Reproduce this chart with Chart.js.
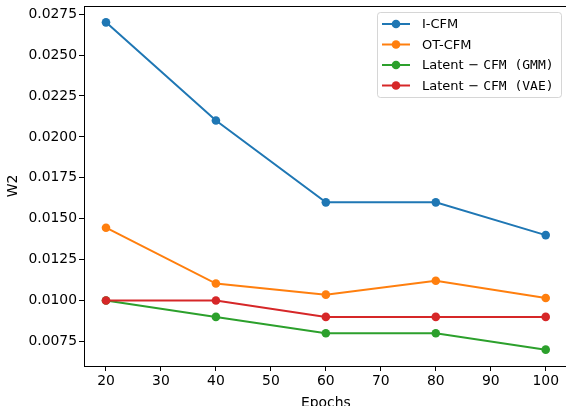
<!DOCTYPE html>
<html lang="en">
<head>
  <meta charset="UTF-8" />
  <title>W2 vs Epochs</title>
  <script src="https://cdn.jsdelivr.net/npm/chart.js"></script>
  <style>
    html, body { margin: 0; padding: 0; background: #fff; overflow: hidden; }
    #wrap { width: 566px; height: 406px; overflow: hidden; }
    canvas { display: block; }
  </style>
</head>
<body>
  <div id="wrap">
    <canvas id="w2Chart" width="572" height="412"></canvas>
  </div>

  <script>
    // données
    const epochs = [20, 40, 60, 80, 100];
    const iCfm = [0.0270, 0.0210, 0.0160, 0.0160, 0.0140];
    const otCfm = [0.01445, 0.01104, 0.01036, 0.01121, 0.01016];
    const latentGmm = [0.0100, 0.0090, 0.0080, 0.0080, 0.0070];
    const latentVae = [0.0100, 0.0100, 0.0090, 0.0090, 0.0090];

    const xTicks = [20, 30, 40, 50, 60, 70, 80, 90, 100];
    const yTicks = [0.0075, 0.0100, 0.0125, 0.0150, 0.0175, 0.0200, 0.0225, 0.0250, 0.0275];

    const SANS = "'DejaVu Sans', sans-serif";
    const MONO = "'DejaVu Sans Mono', monospace";

    function serie(label, values, color, order, mono) {
      return {
        label,
        data: epochs.map((e, i) => ({ x: e, y: values[i] })),
        borderColor: color,
        backgroundColor: color,
        pointBackgroundColor: color,
        pointBorderColor: color,
        borderWidth: 2,
        pointRadius: 4.3,
        pointBorderWidth: 0,
        tension: 0,
        order,
        monoLabel: mono
      };
    }

    // cadre haut + légende dessinée à la matplotlib
    const framePlugin = {
      id: 'frame',
      afterDraw(chart) {
        const { ctx, chartArea: a } = chart;
        ctx.save();
        ctx.strokeStyle = '#000';
        ctx.lineWidth = 1;
        ctx.beginPath();
        ctx.moveTo(a.left, a.top + 0.5);
        ctx.lineTo(a.right, a.top + 0.5);
        ctx.stroke();

        // boîte de légende
        const bx = 377.5, by = 12.5, bw = 184, bh = 85;
        ctx.fillStyle = 'rgba(255,255,255,0.8)';
        ctx.strokeStyle = 'rgba(204,204,204,0.8)';
        ctx.beginPath();
        ctx.roundRect(bx, by, bw, bh, 3);
        ctx.fill();
        ctx.stroke();

        chart.data.datasets.forEach((ds, i) => {
          const cy = 24 + i * 20.5;
          ctx.strokeStyle = ds.borderColor;
          ctx.lineWidth = 2;
          ctx.beginPath();
          ctx.moveTo(382, cy);
          ctx.lineTo(410, cy);
          ctx.stroke();
          ctx.fillStyle = ds.borderColor;
          ctx.beginPath();
          ctx.arc(396, cy, 4.3, 0, Math.PI * 2);
          ctx.fill();
          ctx.fillStyle = '#000';
          ctx.textBaseline = 'middle';
          ctx.textAlign = 'left';
          ctx.font = '13px ' + SANS;
          if (!ds.monoLabel) {
            ctx.fillText(ds.label, 422, cy + 1);
          } else {
            // "Latent − CFM (xxx)" : partie gauche en sans, le reste en mono
            const [left, right] = ds.label.split(' \u2212 ');
            ctx.fillText(left, 422, cy + 1);
            const lw = ctx.measureText(left).width;
            ctx.textAlign = 'center';
            ctx.fillText('\u2212', 422 + lw + 10, cy + 1);
            ctx.textAlign = 'left';
            ctx.font = '13px ' + MONO;
            ctx.fillText(right, 422 + lw + 19.5, cy + 1);
          }
        });
        ctx.restore();
      }
    };

    new Chart(document.getElementById('w2Chart'), {
      type: 'line',
      data: {
        datasets: [
          serie('I-CFM', iCfm, '#1f77b4', 3, false),
          serie('OT-CFM', otCfm, '#ff7f0e', 2, false),
          serie('Latent \u2212 CFM (GMM)', latentGmm, '#2ca02c', 1, true),
          serie('Latent \u2212 CFM (VAE)', latentVae, '#d62728', 0, true)
        ]
      },
      options: {
        responsive: false,
        animation: false,
        layout: { padding: { top: 6, right: 1, left: 0, bottom: 0 } },
        plugins: { legend: { display: false }, tooltip: { enabled: false } },
        scales: {
          x: {
            type: 'linear',
            min: 16,
            max: 104,
            afterBuildTicks: s => { s.ticks = xTicks.map(v => ({ value: v })); },
            afterFit: s => { s.height = 46; s.paddingLeft = 0; s.paddingRight = 0; },
            grid: { drawOnChartArea: false, drawTicks: true, tickLength: 5, tickColor: '#000' },
            border: { color: '#000', width: 1 },
            ticks: { color: '#000', font: { family: SANS, size: 13.9 }, padding: 2, maxRotation: 0 },
            title: { display: true, text: 'Epochs', color: '#000', font: { family: SANS, size: 13.9 }, padding: { top: 2, bottom: 0 } }
          },
          y: {
            min: 0.006,
            max: 0.028,
            afterBuildTicks: s => { s.ticks = yTicks.map(v => ({ value: v })); },
            afterFit: s => { s.width = 84; s.paddingTop = 0; s.paddingBottom = 0; },
            grid: { drawOnChartArea: false, drawTicks: true, tickLength: 5, tickColor: '#000' },
            border: { color: '#000', width: 1 },
            ticks: { color: '#000', font: { family: SANS, size: 13.9 }, padding: 2, callback: v => v.toFixed(4) },
            title: { display: true, text: 'W2', color: '#000', font: { family: SANS, size: 13.9 }, padding: { top: 5, bottom: 0 } }
          }
        }
      },
      plugins: [framePlugin]
    });
  </script>
</body>
</html>
